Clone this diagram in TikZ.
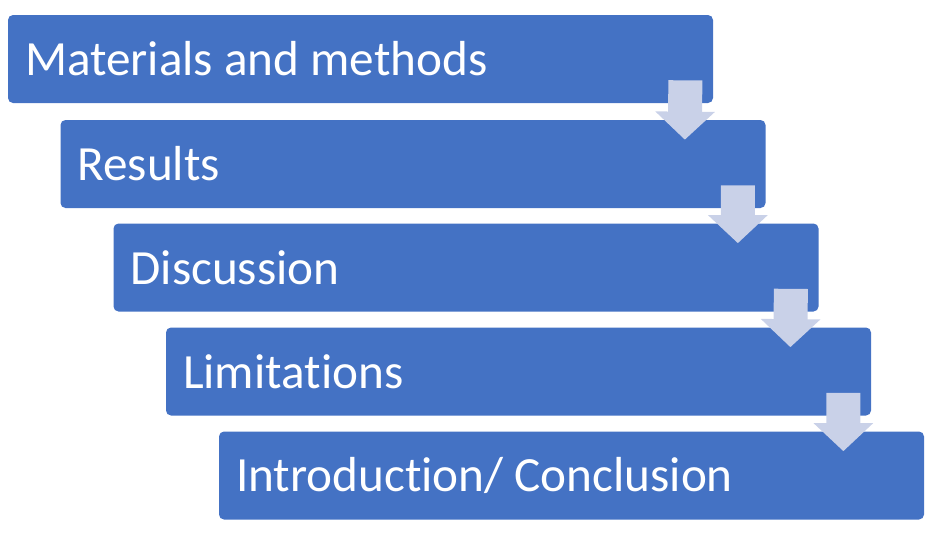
\documentclass[tikz,border=0pt]{standalone}
\usepackage{fontspec}
\setmainfont[Ligatures=NoCommon]{Carlito}
\usetikzlibrary{arrows.meta,calc}
\definecolor{stepblue}{RGB}{68,114,196}
\definecolor{flowgrey}{RGB}{201,209,232}

\begin{document}
\begin{tikzpicture}[
    box/.style={draw=none,fill=stepblue,rounded corners=0.1cm,
        minimum width=14.1cm,minimum height=1.76cm,inner xsep=0.34cm,
        text width=13.42cm,align=flush left,text=white,
        font=\fontsize{28}{32}\selectfont},
    flow/.style={draw=flowgrey,line width=0.68cm,line cap=butt,
        -{Triangle[width=1.16cm,length=0.56cm]}}]
\useasboundingbox (0,0) rectangle (18.92,-10.82);
\node[box] (mat) at (7.21,-1.18) {Materials and methods};
\node[box] (res) at (8.26,-3.28) {Results};
\node[box] (dis) at (9.32,-5.35) {Discussion};
\node[box] (lim) at (10.37,-7.43) {Limitations};
\node[box] (con) at (11.43,-9.51) {Introduction/ Conclusion};
\draw[flow] ([xshift=-0.56cm,yshift=0.46cm]mat.south east) -- ([xshift=-1.62cm,yshift=-0.4cm]res.north east);
\draw[flow] ([xshift=-0.56cm,yshift=0.46cm]res.south east) -- ([xshift=-1.62cm,yshift=-0.4cm]dis.north east);
\draw[flow] ([xshift=-0.56cm,yshift=0.46cm]dis.south east) -- ([xshift=-1.62cm,yshift=-0.4cm]lim.north east);
\draw[flow] ([xshift=-0.56cm,yshift=0.46cm]lim.south east) -- ([xshift=-1.62cm,yshift=-0.4cm]con.north east);
\end{tikzpicture}
\end{document}
